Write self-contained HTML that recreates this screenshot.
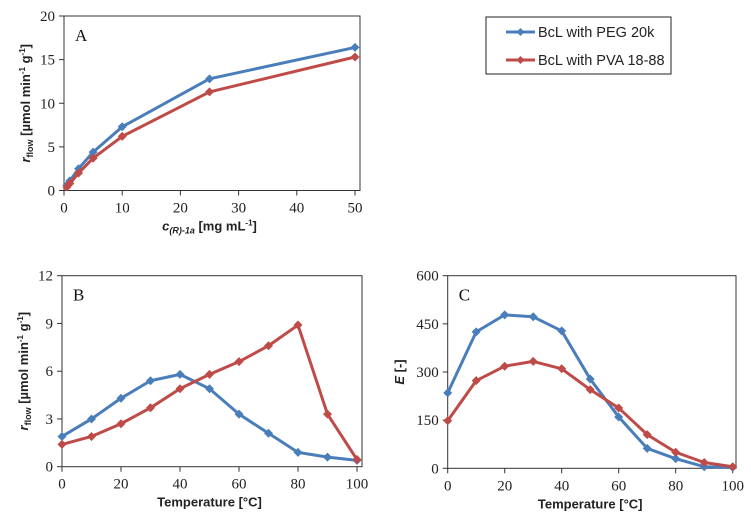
<!DOCTYPE html>
<html><head><meta charset="utf-8"><style>
body{margin:0;background:#fff;}
svg{display:block;}
.tk{font-family:"Liberation Serif",serif;font-size:15px;fill:#222;}
.tt{font-family:"Liberation Sans",sans-serif;font-size:13px;font-weight:bold;fill:#222;}
.pl{font-family:"Liberation Serif",serif;font-size:17px;fill:#111;}
.lg{font-family:"Liberation Sans",sans-serif;font-size:14.5px;fill:#222;}
</style></head><body>
<svg id="s" width="751" height="522">
<g id="legend">
<rect x="486" y="17" width="185" height="57" fill="#fff" stroke="#222" stroke-width="1"/>
<g><line x1="506" y1="32" x2="535" y2="32" stroke="#4A7EBB" stroke-width="3"/><path d="M520.5 28 L524.5 32 L520.5 36 L516.5 32Z" fill="#4A7EBB"/><text class="lg" x="538" y="37">BcL with PEG 20k</text></g>
<g><line x1="506" y1="60" x2="535" y2="60" stroke="#BE4B48" stroke-width="3"/><path d="M520.5 56 L524.5 60 L520.5 64 L516.5 60Z" fill="#BE4B48"/><text class="lg" x="538" y="65">BcL with PVA 18-88</text></g>
</g>
</svg>
<script>
const aX=[0.5,1,2.5,5,10,25,50];
const aPEG=[0.6,1.1,2.5,4.4,7.3,12.8,16.4];
const aPVA=[0.4,0.8,2.0,3.7,6.2,11.3,15.3];
const aXTicks=[0,10,20,30,40,50];
const aYTicks=[0,5,10,15,20];
const tX=[0,10,20,30,40,50,60,70,80,90,100];
const bPEG=[1.9,3.0,4.3,5.4,5.8,4.9,3.3,2.1,0.9,0.6,0.4];
const bPVA=[1.4,1.9,2.7,3.7,4.9,5.8,6.6,7.6,8.9,3.3,0.45];
const bYTicks=[0,3,6,9,12];
const cPEG=[235,425,478,472,428,278,160,62,30,5,3];
const cPVA=[148,273,318,333,310,245,188,105,50,18,5];
const cYTicks=[0,150,300,450,600];
const tXTicks=[0,20,40,60,80,100];
const NS='http://www.w3.org/2000/svg';
const svg=document.getElementById('s');
function mk(t,a,p){const e=document.createElementNS(NS,t);for(const k in a)e.setAttribute(k,a[k]);(p||svg).appendChild(e);return e;}
function chart(name,o){
 const g=mk('g',{});
 
 
 const sx=v=>o.x0+(v-o.xmin)/(o.xmax-o.xmin)*(o.x1-o.x0);
 const sy=v=>o.y0-(v-o.ymin)/(o.ymax-o.ymin)*(o.y0-o.y1);
 const box=mk('rect',{x:o.x0,y:o.y1,width:o.bx-o.x0,height:o.y0-o.y1,fill:'none',stroke:'#333','stroke-width':1},g);
 
 
 o.yt.forEach(v=>{const y=sy(v);mk('line',{x1:o.x0-5,x2:o.x0,y1:y,y2:y,stroke:'#333'},g);
  const t=mk('text',{x:o.x0-9,y:y+5,'text-anchor':'end',class:'tk'},g);t.textContent=v;
  
  });
 o.xt.forEach(v=>{const x=sx(v);mk('line',{x1:x,x2:x,y1:o.y0,y2:o.y0+5,stroke:'#333'},g);
  const t=mk('text',{x:x,y:o.y0+22,'text-anchor':'middle',class:'tk'},g);t.textContent=v;
  
  });
 o.series.forEach(s=>{
  const sg=mk('g',{},g);
  
  
  mk('polyline',{points:s.y.map((v,i)=>sx(o.xs[i])+','+sy(v)).join(' '),fill:'none',stroke:s.c,'stroke-width':3,'stroke-linejoin':'round'},sg);
  s.y.forEach((v,i)=>{const x=sx(o.xs[i]),y=sy(v);
   const m=mk('path',{d:`M${x} ${y-4.5}L${x+4.5} ${y}L${x} ${y+4.5}L${x-4.5} ${y}Z`,fill:s.c},sg);
   
   });
 });
 const p=mk('text',{x:o.x0+11,y:o.y1+25,class:'pl'},g);p.textContent=o.label;
 
 
 const xt=mk('text',{x:(o.x0+o.x1)/2,y:o.y0+40,'text-anchor':'middle',class:'tt'},g);xt.innerHTML=o.xtitle;
 
 
 const cy=(o.y0+o.y1)/2;
 const yt=mk('text',{x:o.ytx,y:cy,'text-anchor':'middle',class:'tt',transform:`rotate(-90 ${o.ytx} ${cy})`},g);yt.innerHTML=o.ytitle;
 
 
}
const B='#4A7EBB',R='#BE4B48';
const rf='<tspan font-style="italic">r</tspan><tspan font-size="9" dy="3">flow</tspan><tspan dy="-3"> [µmol min</tspan><tspan font-size="8" dy="-5">-1</tspan><tspan dy="5"> g</tspan><tspan font-size="8" dy="-5">-1</tspan><tspan dy="5">]</tspan>';
chart('chart-a',{x0:64,x1:355,bx:360,y0:190.5,y1:16,xmin:0,xmax:50,ymin:0,ymax:20,xs:aX,xt:aXTicks,yt:aYTicks,label:'A',ytx:30,
 xtitle:'<tspan font-style="italic">c</tspan><tspan font-size="9" dy="3" font-style="italic">(R)-1a</tspan><tspan dy="-3"> [mg mL</tspan><tspan font-size="8" dy="-5">-1</tspan><tspan dy="5">]</tspan>',ytitle:rf,
 series:[{name:'series-peg',y:aPEG,c:B},{name:'series-pva',y:aPVA,c:R}]});
chart('chart-b',{x0:62,x1:357,bx:362,y0:466.7,y1:275.7,xmin:0,xmax:100,ymin:0,ymax:12,xs:tX,xt:tXTicks,yt:bYTicks,label:'B',ytx:28,
 xtitle:'Temperature [°C]',ytitle:rf,
 series:[{name:'series-peg',y:bPEG,c:B},{name:'series-pva',y:bPVA,c:R}]});
chart('chart-c',{x0:447.7,x1:732.7,bx:736,y0:468.3,y1:275.7,xmin:0,xmax:100,ymin:0,ymax:600,xs:tX,xt:tXTicks,yt:cYTicks,label:'C',ytx:404,
 xtitle:'Temperature [°C]',ytitle:'<tspan font-style="italic">E</tspan> [-]',
 series:[{name:'series-peg',y:cPEG,c:B},{name:'series-pva',y:cPVA,c:R}]});
</script>
</body></html>
